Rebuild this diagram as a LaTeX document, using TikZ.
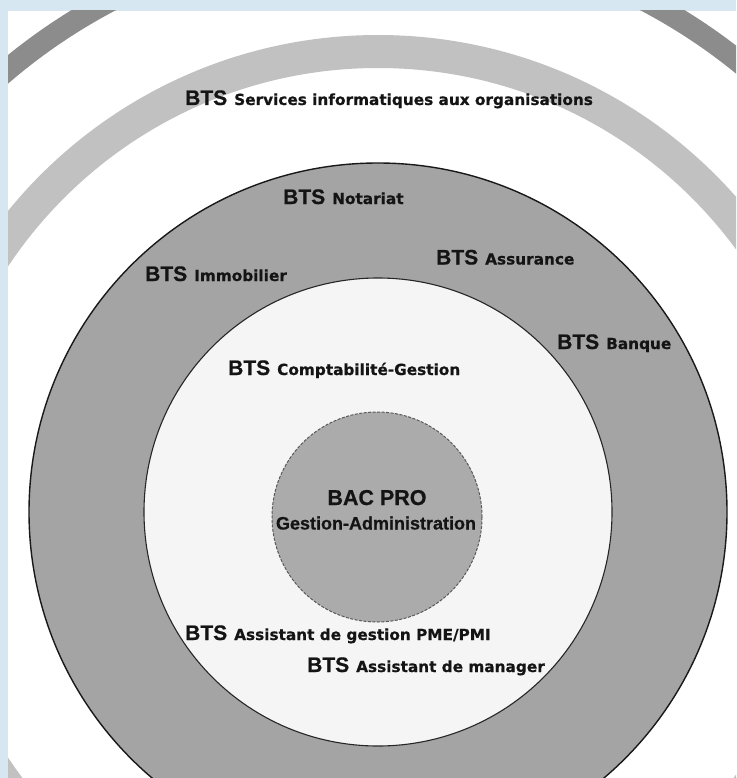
\documentclass[tikz,border=0pt]{standalone}
\usepackage{fontspec}
\setmainfont{Liberation Sans}[FakeBold=0.6]
\newfontfamily\btsfam{Liberation Sans}[FakeBold=0.8]
\newfontfamily\restfam{DejaVu Sans}[FakeBold=0.5]
\definecolor{frameblue}{HTML}{D7E7F1}
\definecolor{outerring}{HTML}{8C8C8C}
\definecolor{lightring}{HTML}{C1C1C1}
\definecolor{darkdisc}{HTML}{A4A4A4}
\definecolor{whitedisc}{HTML}{F5F5F5}
\definecolor{innerdisc}{HTML}{ABABAB}
\definecolor{inktext}{HTML}{141414}
\newcommand{\btslabel}[1]{{\btsfam\bfseries\fontsize{21}{24}\selectfont BTS}\hspace{7pt}{\restfam\bfseries\fontsize{15.3}{18}\selectfont #1}}
\tikzset{
  lbl/.style={anchor=base west, inner sep=0pt, text=inktext},
}
\begin{document}
\begin{tikzpicture}[x=1pt,y=-1pt]
\useasboundingbox (0,0) rectangle (736,778);
\fill[frameblue] (0,0) rectangle (736,778);
\fill[white] (8,11) rectangle (736,778);
\begin{scope}
\clip (8,11) rectangle (736,778);
\coordinate (c) at (378,512);
\draw[outerring, line width=22pt] (c) circle[radius=577];
\draw[lightring, line width=33pt] (c) circle[radius=460.5];
\filldraw[fill=darkdisc, draw=black!90, line width=1.4pt] (c) circle[radius=349];
\filldraw[fill=whitedisc, draw=black!85, line width=1.1pt] (c) circle[radius=234];
\coordinate (ci) at (377,517);
\filldraw[fill=innerdisc, draw=black!65, line width=1pt, dash pattern=on 3pt off 1.5pt] (ci) circle[radius=105];
\end{scope}
\node[lbl] (sio) at (185,105) {\btslabel{Services informatiques aux organisations}};
\node[lbl] (nota) at (283,204) {\btslabel{Notariat}};
\node[lbl] (immo) at (145,281) {\btslabel{Immobilier}};
\node[lbl] (assu) at (436,264.5) {\btslabel{Assurance}};
\node[lbl] (banq) at (557,349) {\btslabel{Banque}};
\node[lbl] (compta) at (228,375) {\btslabel{Comptabilité-Gestion}};
\node[lbl] (pme) at (185,640) {\btslabel{Assistant de gestion PME/PMI}};
\node[lbl] (mana) at (307,672) {\btslabel{Assistant de manager}};
\node[anchor=base, inner sep=0pt, text=inktext] (bac) at (377,505) {\bfseries\fontsize{21.5}{24}\selectfont BAC PRO};
\node[anchor=base, inner sep=0pt, text=inktext] (ga) at (376,529.5) {\bfseries\fontsize{18}{21}\selectfont Gestion-Administration};
\end{tikzpicture}
\end{document}
